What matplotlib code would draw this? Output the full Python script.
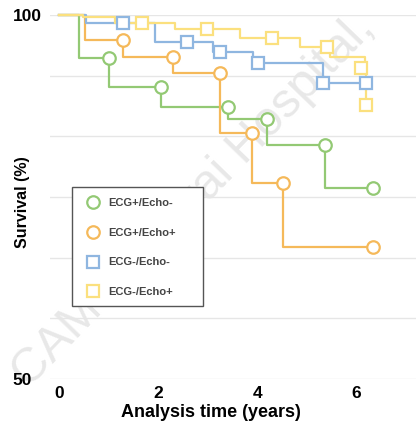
import matplotlib
matplotlib.use("Agg")
import matplotlib.pyplot as plt
from matplotlib.lines import Line2D
from matplotlib.patches import Rectangle

plt.rcParams['font.family'] = ['Liberation Sans', 'DejaVu Sans']

# Kaplan-Meier steps (time in years, survival in %)
green_t = [0, 0.40, 1.01, 2.06, 3.41, 4.19, 5.36, 6.33]
green_s = [100, 94.1, 90.1, 87.4, 85.7, 82.1, 76.2, 76.2]
green_ct = [1.01, 2.06, 3.41, 4.19, 5.36, 6.33]
green_cs = [94.1, 90.1, 87.4, 85.7, 82.1, 76.2]

orange_t = [0, 0.52, 1.29, 2.30, 3.25, 3.89, 4.52, 6.33]
orange_s = [100, 96.6, 94.2, 92.0, 83.8, 76.9, 68.1, 68.1]
orange_ct = [1.29, 2.30, 3.25, 3.89, 4.52, 6.33]
orange_cs = [96.6, 94.2, 92.0, 83.8, 76.9, 68.1]

blue_t = [0, 0.54, 1.94, 3.10, 3.91, 5.32, 6.19]
blue_s = [100, 98.9, 96.3, 94.9, 93.4, 90.7, 90.7]
blue_ct = [1.29, 2.58, 3.25, 4.01, 5.32, 6.19]
blue_cs = [98.9, 96.3, 94.9, 93.4, 90.7, 90.7]

yellow_t = [0, 0.48, 1.13, 2.34, 3.65, 4.86, 5.46, 6.17, 6.19]
yellow_s = [100, 99.7, 98.9, 98.1, 96.8, 95.6, 94.2, 92.7, 87.6]
yellow_ct = [1.67, 2.98, 4.29, 5.40, 6.10, 6.19]
yellow_cs = [98.9, 98.1, 96.8, 95.6, 92.7, 87.6]

labels = ['ECG+/Echo-', 'ECG+/Echo+', 'ECG-/Echo-', 'ECG-/Echo+']
colors = ['#93c974', '#f5b95a', '#8fb6e0', '#fbe07e']
markers = ['o', 'o', 's', 's']

xticks = [0, 2, 4, 6]
ygrid = [50, 50 + 50 / 6, 50 + 100 / 6, 75, 50 + 200 / 6, 50 + 250 / 6, 100]

fig = plt.figure(figsize=(4.16, 4.28), dpi=100)
ax = fig.add_axes([50 / 416, 49 / 428, 366 / 416, 364 / 428])
ax.set_facecolor('none')

# faint watermark behind the plot
fig.text(0.465, 0.53, 'CAMS, Fuwai Hospital,', rotation=46, fontsize=35,
         color='#e8e8e8', ha='center', va='center', zorder=-1)

series = [
    (green_t, green_s, green_ct, green_cs),
    (orange_t, orange_s, orange_ct, orange_cs),
    (blue_t, blue_s, blue_ct, blue_cs),
    (yellow_t, yellow_s, yellow_ct, yellow_cs),
]
for (t, s, ct, cs), c, m in zip(series, colors, markers):
    ax.step(t, s, where='post', color=c, lw=1.6, clip_on=False, zorder=3)
    ax.plot(ct, cs, ls='none', marker=m, ms=9, mfc='white', mec=c, mew=1.6,
            clip_on=False, zorder=4)

ax.set_xlim(-0.18, 7.2)
ax.set_ylim(50, 100)
for sp in ax.spines.values():
    sp.set_visible(False)

ax.set_yticks(ygrid)
ax.set_yticklabels(['50', '', '', '', '', '', '100'])
ax.set_xticks(xticks)
ax.set_xticklabels([str(x) for x in xticks])
ax.tick_params(length=0, labelsize=12.5)
ax.tick_params(axis='y', pad=27)
ax.tick_params(axis='x', pad=5)
for lab in ax.get_yticklabels():
    lab.set_horizontalalignment('left')
for lab in ax.get_xticklabels() + ax.get_yticklabels():
    lab.set_fontweight('bold')
ax.grid(axis='y', color='#e6e6e6', lw=1)
ax.set_axisbelow(True)

ax.set_xlabel('Analysis time (years)', fontsize=13, fontweight='bold')
ax.xaxis.set_label_coords(0.44, -0.07)
ax.set_ylabel('Survival (%)', fontsize=11.5, fontweight='bold')
ax.yaxis.set_label_coords(-0.056, 0.486)

# legend box drawn by hand so it can be wider than its contents
ax.add_patch(Rectangle((0.0601, 0.2005), 0.358, 0.3265, transform=ax.transAxes,
                       facecolor='white', edgecolor='#555555', lw=1, zorder=5))
handles = [Line2D([], [], ls='none', marker=m, ms=9, mfc='white', mec=c, mew=1.6)
           for c, m in zip(colors, markers)]
leg = ax.legend(handles, labels, loc='upper left', bbox_to_anchor=(0.06, 0.527),
                borderaxespad=0, frameon=False, fontsize=8,
                labelspacing=1.76, handletextpad=0.45, borderpad=1.0,
                handlelength=1.8)
leg.set_zorder(6)
for txt in leg.get_texts():
    txt.set_color('#444444')
    txt.set_fontweight('bold')

fig.savefig('out.png', dpi=100)
